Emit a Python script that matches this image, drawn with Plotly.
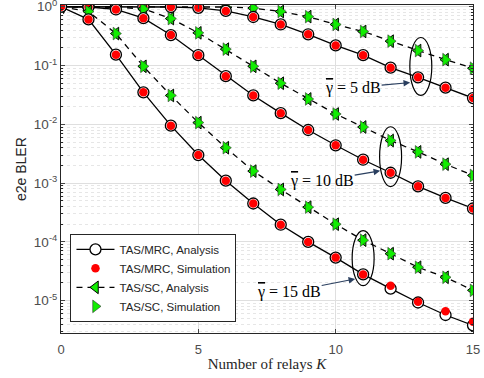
import plotly.graph_objects as go

K = list(range(16))

# 5 dB
mrc5_ana = [1, 1, 1, 1, 0.99, 0.96, 0.85, 0.67, 0.5, 0.34, 0.22, 0.15, 0.092, 0.063, 0.042, 0.028]
mrc5_sim = [1, 1, 1, 1, 0.99, 0.96, 0.85, 0.67, 0.5, 0.34, 0.22, 0.15, 0.092, 0.063, 0.042, 0.028]
sc5_ana = [1, 1, 1, 1, 1, 1, 0.99, 0.95, 0.83, 0.68, 0.5, 0.38, 0.26, 0.18, 0.126, 0.09]
sc5_sim = [1, 1, 1, 1, 1, 1, 0.99, 0.95, 0.83, 0.68, 0.5, 0.38, 0.26, 0.18, 0.126, 0.09]
# 10 dB
mrc10_ana = [1, 0.99, 0.9, 0.64, 0.33, 0.15, 0.066, 0.031, 0.0155, 0.008, 0.0044, 0.0025, 0.0015, 0.00088, 0.00056, 0.00037]
mrc10_sim = [1, 0.99, 0.9, 0.64, 0.33, 0.15, 0.066, 0.031, 0.0155, 0.008, 0.0044, 0.0025, 0.0015, 0.00088, 0.00056, 0.00037]
sc10_ana = [1, 1, 0.98, 0.92, 0.63, 0.36, 0.19, 0.097, 0.05, 0.027, 0.015, 0.009, 0.0053, 0.0034, 0.0021, 0.00135]
sc10_sim = [1, 1, 0.98, 0.92, 0.63, 0.36, 0.19, 0.097, 0.05, 0.027, 0.015, 0.009, 0.0053, 0.0034, 0.0021, 0.00135]
# 15 dB
mrc15_ana = [1, 0.61, 0.153, 0.035, 0.0095, 0.003, 0.0011, 0.00045, 0.000196, 0.0001, 5.4e-5, 2.8e-5, 1.6e-5, 9.3e-6, 5.7e-6, 3.8e-6]
mrc15_sim = [1, 0.61, 0.153, 0.035, 0.0095, 0.003, 0.0011, 0.00045, 0.000196, 0.0001, 5.4e-5, 2.8e-5, 1.8e-5, 9.6e-6, 6.6e-6, 4.4e-6]
sc15_ana = [1, 0.83, 0.35, 0.097, 0.031, 0.0107, 0.004, 0.0016, 0.00078, 0.00039, 0.0002, 0.000107, 6.3e-5, 3.7e-5, 2.5e-5, 1.5e-5]
sc15_sim = [1, 0.83, 0.35, 0.097, 0.031, 0.0107, 0.004, 0.0016, 0.00078, 0.00039, 0.0002, 0.000107, 6.3e-5, 3.7e-5, 2.5e-5, 1.5e-5]

y_tickvals = [1e-5, 1e-4, 1e-3, 1e-2, 1e-1, 1]
y_ticktext = ["10<sup>-5</sup>", "10<sup>-4</sup>", "10<sup>-3</sup>", "10<sup>-2</sup>",
              "10<sup>-1</sup>", "10<sup>0</sup>"]
x_tickvals = [0, 5, 10, 15]

snr_labels = ["5 dB", "10 dB", "15 dB"]
# ellipse (K centre, lower BLER, upper BLER)
ellipses = [(13.1, 0.031, 0.30), (12.0, 0.00087, 0.0091), (11.0, 1.8e-5, 1.55e-4)]
# arrow tip (K, log10 BLER) and text offset in px
arrows = [(12.71, -1.29, -57, 5), (11.62, -2.79, -58, 10), (10.71, -4.63, -66, 13)]

GREEN = "#11ee00"
fig = go.Figure()
groups = [(mrc5_ana, mrc5_sim, sc5_ana, sc5_sim),
          (mrc10_ana, mrc10_sim, sc10_ana, sc10_sim),
          (mrc15_ana, mrc15_sim, sc15_ana, sc15_sim)]
for i, (ma, ms, sa, ss) in enumerate(groups):
    first = i == 0
    fig.add_trace(go.Scatter(x=K, y=sa, mode="lines+markers", name="TAS/SC, Analysis",
                             legendgroup="c", showlegend=first, legendrank=3,
                             line=dict(color="black", width=1.3, dash="6px,5px"),
                             marker=dict(symbol="triangle-left", size=11, color=GREEN,
                                         line=dict(color="black", width=1))))
    fig.add_trace(go.Scatter(x=K, y=ss, mode="markers", name="TAS/SC, Simulation",
                             legendgroup="d", showlegend=first, legendrank=4,
                             marker=dict(symbol="triangle-right", size=11, color=GREEN,
                                         line=dict(color="#333333", width=0.6))))
    fig.add_trace(go.Scatter(x=K, y=ma, mode="lines+markers", name="TAS/MRC, Analysis",
                             legendgroup="a", showlegend=first, legendrank=1,
                             line=dict(color="black", width=1.3),
                             marker=dict(symbol="circle", size=11, color="white",
                                         line=dict(color="black", width=1.3))))
    fig.add_trace(go.Scatter(x=K, y=ms, mode="markers", name="TAS/MRC, Simulation",
                             legendgroup="b", showlegend=first, legendrank=2,
                             marker=dict(symbol="circle", size=8.5, color="#ff0000",
                                         line=dict(width=0))))

for (kc, ylo, yhi) in ellipses:
    fig.add_shape(type="circle", xref="x", yref="y", x0=kc - 0.4, x1=kc + 0.4,
                  y0=ylo, y1=yhi, line=dict(color="black", width=1.2))

for lab, (xk, yl, axp, ayp) in zip(snr_labels, arrows):
    fig.add_annotation(x=xk, y=yl, xref="x", yref="y",
                       text="<span style='text-decoration:overline'>γ</span> = " + lab,
                       ax=axp, ay=ayp, showarrow=True, arrowhead=2, arrowsize=1.1,
                       arrowwidth=1.2, standoff=0, borderpad=0,
                       font=dict(family="Liberation Serif", size=16, color="black"))

# y-axis title placed next to the tick labels
fig.add_annotation(x=-0.097, y=0.5, xref="paper", yref="paper", text="e2e BLER",
                   textangle=-90, showarrow=False, xanchor="center", yanchor="middle",
                   font=dict(family="Liberation Sans", size=14, color="#262626"))

fig.update_layout(
    width=484, height=378,
    margin=dict(l=61, r=11, t=5, b=45),
    plot_bgcolor="white", paper_bgcolor="white",
    font=dict(family="Liberation Sans", size=13, color="#262626"),
    showlegend=True,
    legend=dict(x=0.023, y=0.034, xanchor="left", yanchor="bottom",
                bgcolor="white", bordercolor="#262626", borderwidth=1,
                font=dict(family="Liberation Sans", size=11.5, color="#262626"),
                tracegroupgap=0, itemwidth=38),
)
fig.update_xaxes(range=[0, 15], tickvals=x_tickvals, ticks="inside", ticklen=4,
                 showline=True, linecolor="#262626", linewidth=1, mirror="ticks",
                 showgrid=True, gridcolor="#dfdfdf", gridwidth=1, zeroline=False,
                 tickfont=dict(color="#4d4d4d", size=13), ticklabelstandoff=4,
                 automargin=False,
                 title=dict(text="Number of relays <i>K</i>", standoff=2,
                            font=dict(family="Liberation Serif", size=15, color="#262626")))
fig.update_yaxes(type="log", range=[-5.55, 0.03], tickvals=y_tickvals, ticktext=y_ticktext,
                 ticks="inside", ticklen=4, showline=True, linecolor="#262626", linewidth=1,
                 mirror="ticks", showgrid=True, gridcolor="#dfdfdf", gridwidth=1,
                 tickfont=dict(color="#4d4d4d", size=13.5), ticklabeloverflow="allow",
                 automargin=False,
                 minor=dict(ticks="inside", ticklen=2, showgrid=True, gridcolor="#e6e6e6",
                            griddash="dot", gridwidth=1, tickcolor="#262626", dtick="D1"))

fig.write_html("out.html")
